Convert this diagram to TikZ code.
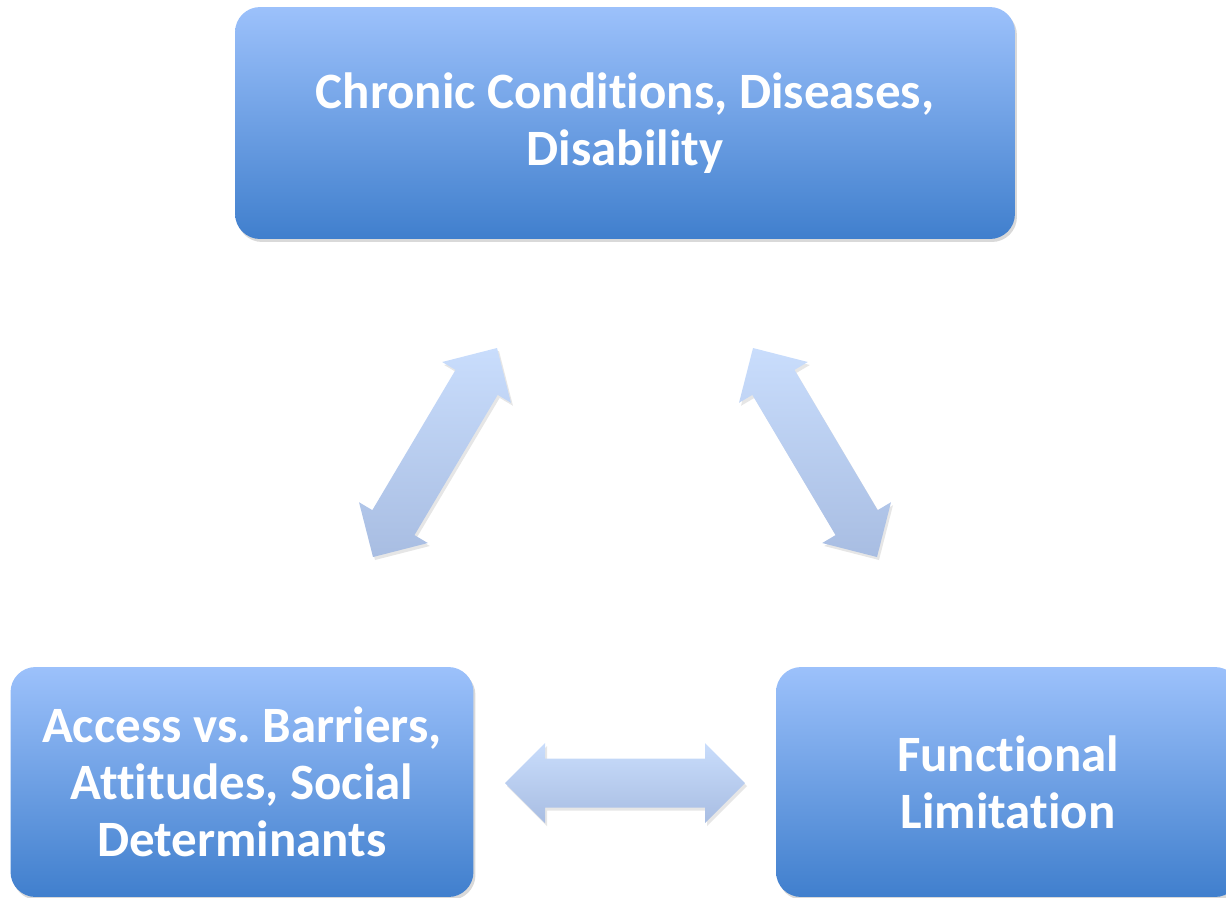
\documentclass[tikz,border=0pt]{standalone}
\usepackage{fontspec}
\setmainfont[Ligatures=NoCommon]{Carlito}
\usetikzlibrary{calc,shadows}

\definecolor{boxtop}{RGB}{156,193,251}
\definecolor{boxbot}{RGB}{64,127,205}
\definecolor{arrtop}{RGB}{201,221,252}
\definecolor{arrbot}{RGB}{168,189,226}

\tikzset{
  bluebox/.style={rounded corners=0.5cm, top color=boxtop, bottom color=boxbot,
    draw=none, text=white, align=center, inner sep=0pt,
    font=\bfseries\fontsize{29}{32.5}\selectfont,
    drop shadow={opacity=0.3, shadow xshift=0.04cm, shadow yshift=-0.06cm}},
  arrfill/.style={top color=arrtop, bottom color=arrbot,
    drop shadow={opacity=0.2, shadow xshift=0.04cm, shadow yshift=-0.06cm}}
}

% 両矢印 (#1 -- #2)
\newcommand{\dblarrow}[2]{
  \coordinate (h1) at ($(#1)!0.8cm!(#2)$);
  \coordinate (h2) at ($(#2)!0.8cm!(#1)$);
  \path[arrfill] (#1) -- ($(h1)!0.8cm!90:(#2)$) -- ($(h1)!0.49cm!90:(#2)$)
    -- ($(h2)!0.49cm!-90:(#1)$) -- ($(h2)!0.8cm!-90:(#1)$) -- (#2)
    -- ($(h2)!0.8cm!90:(#1)$) -- ($(h2)!0.49cm!90:(#1)$)
    -- ($(h1)!0.49cm!-90:(#2)$) -- ($(h1)!0.8cm!-90:(#2)$) -- cycle;
}

\begin{document}
\begin{tikzpicture}[x=0.02cm, y=-0.02cm]
  \useasboundingbox (0,0) rectangle (1226,897);

  % 箱
  \node[bluebox, minimum width=15.6cm, minimum height=4.64cm] (chronic) at (625,123)
    {Chronic Conditions, Diseases,\\Disability};
  \node[bluebox, minimum width=9.26cm, minimum height=4.6cm] (access) at (242,782)
    {Access vs.\ Barriers,\\Attitudes, Social\\Determinants};
  \node[bluebox, minimum width=9.28cm, minimum height=4.6cm] (func) at (1008,782)
    {Functional\\Limitation};

  % 矢印の端
  \coordinate (la) at (373,557);
  \coordinate (lb) at (497,348);
  \coordinate (ra) at (753,348);
  \coordinate (rb) at (877,557);
  \coordinate (ba) at (505,783);
  \coordinate (bb) at (745,783);

  % 矢印
  \dblarrow{la}{lb}
  \dblarrow{ra}{rb}
  \dblarrow{ba}{bb}
\end{tikzpicture}
\end{document}
